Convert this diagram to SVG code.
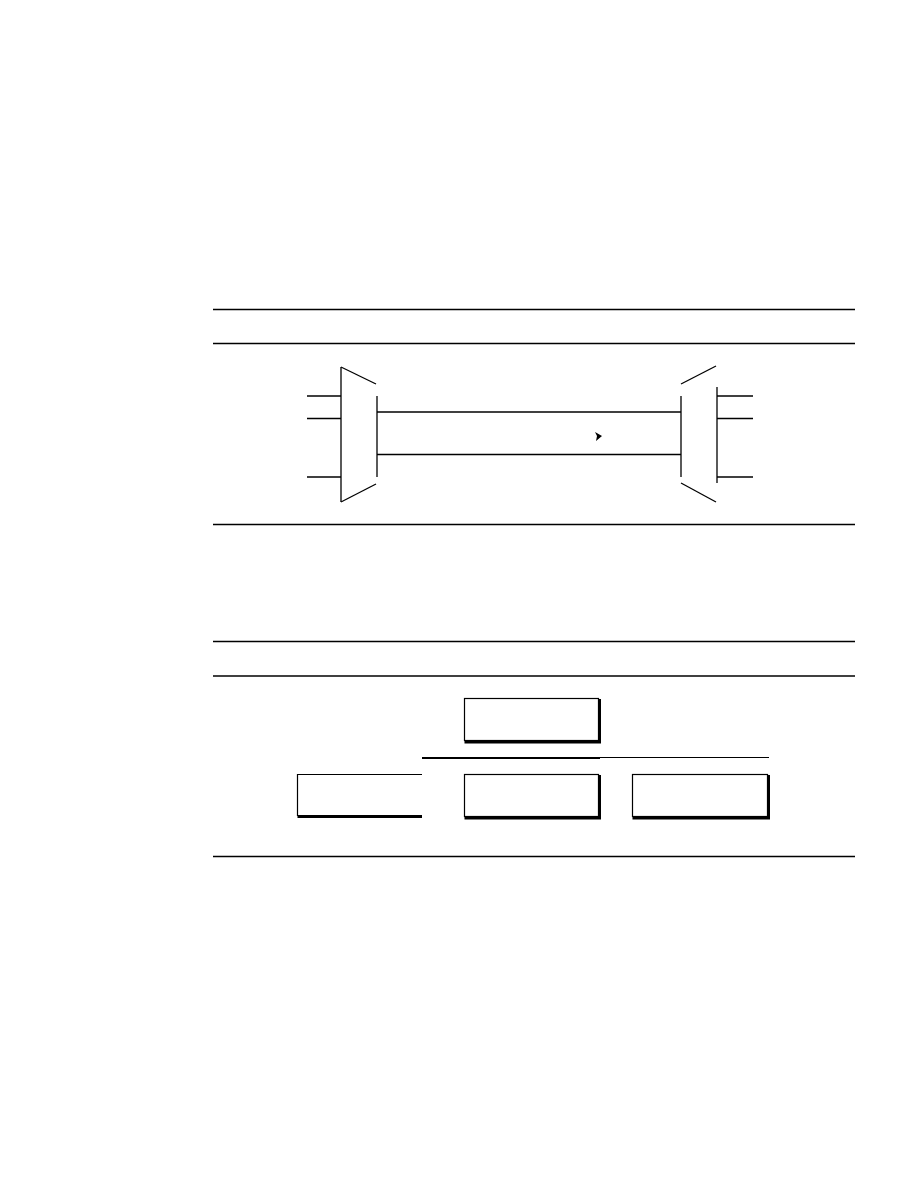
<svg xmlns="http://www.w3.org/2000/svg" width="918" height="1188" viewBox="0 0 918 1188">
<style>
.l{stroke:#000;stroke-width:1.3;fill:none}
.b{fill:#fff;stroke:#000;stroke-width:1.2}
.s{stroke:#000;stroke-width:3;fill:none}
</style>
<rect width="918" height="1188" fill="#fff"/>
<g id="rules">
<line class="l" x1="213" y1="309.5" x2="855" y2="309.5"/>
<line class="l" x1="213" y1="343.5" x2="855" y2="343.5"/>
<line class="l" x1="213" y1="524.5" x2="855" y2="524.5"/>
<line class="l" x1="213" y1="641.5" x2="855" y2="641.5"/>
<line class="l" x1="213" y1="676" x2="855" y2="676"/>
<line class="l" x1="213" y1="856.5" x2="855" y2="856.5"/>
</g>
<g id="mux-left">
<line class="l" x1="341" y1="367" x2="341" y2="502"/>
<line class="l" x1="341" y1="367" x2="376" y2="384"/>
<line class="l" x1="341" y1="502" x2="376" y2="484"/>
<line class="l" x1="377" y1="396" x2="377" y2="477"/>
</g>
<g id="mux-right">
<line class="l" x1="681" y1="396" x2="681" y2="477"/>
<line class="l" x1="681" y1="384" x2="716" y2="366"/>
<line class="l" x1="681" y1="483" x2="716" y2="502"/>
<line class="l" x1="717" y1="387" x2="717" y2="483"/>
</g>
<g id="connectors">
<line class="l" x1="307" y1="396" x2="341" y2="396"/>
<line class="l" x1="307" y1="418.5" x2="341" y2="418.5"/>
<line class="l" x1="307" y1="477" x2="341" y2="477"/>
<line class="l" x1="377" y1="412" x2="681" y2="412"/>
<line class="l" x1="377" y1="454.5" x2="681" y2="454.5"/>
<line class="l" x1="717" y1="396" x2="753" y2="396"/>
<line class="l" x1="717" y1="418.5" x2="753" y2="418.5"/>
<line class="l" x1="717" y1="477" x2="753" y2="477"/>
<polygon points="595,432 602,436 596,441 597,436" fill="#000"/>
<line x1="422" y1="758" x2="600" y2="758" stroke="#000" stroke-width="2.2"/>
<line x1="600" y1="757.5" x2="769" y2="757.5" stroke="#000" stroke-width="1.1"/>
</g>
<g id="box-top">
<rect class="b" x="464.5" y="698.5" width="134" height="42"/>
<polyline class="s" points="599.5,699 599.5,742 464.5,742"/>
</g>
<g id="box-left">
<polyline points="422,774.5 297.5,774.5 297.5,816" class="b" fill="none"/>
<line class="s" x1="297.5" y1="816.5" x2="422" y2="816.5"/>
</g>
<g id="box-mid">
<rect class="b" x="464.5" y="774.5" width="134" height="42"/>
<polyline class="s" points="599.5,775 599.5,818 464.5,818"/>
</g>
<g id="box-right">
<rect class="b" x="632.5" y="774.5" width="135" height="42"/>
<polyline class="s" points="768.5,775 768.5,818 632.5,818"/>
</g>
</svg>
